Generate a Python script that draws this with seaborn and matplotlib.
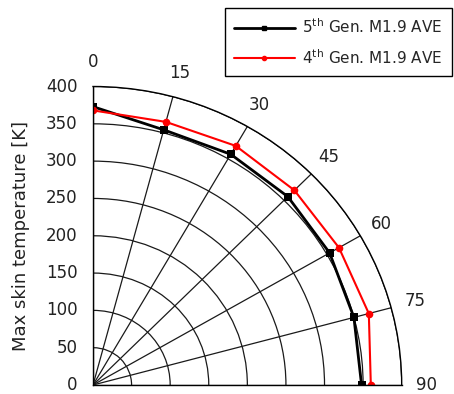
import numpy as np
import pandas as pd
import matplotlib
matplotlib.use('Agg')
import matplotlib.pyplot as plt
from matplotlib.lines import Line2D
import seaborn as sns

# Data
angles = [0, 15, 30, 45, 60, 75, 90]
gen5_temp = [373, 354, 357, 357, 354, 350, 348]
gen4_temp = [368, 365, 370, 369, 368, 370, 360]
series_names = ['5$^{\\mathrm{th}}$ Gen. M1.9 AVE', '4$^{\\mathrm{th}}$ Gen. M1.9 AVE']
r_ticks = [0, 50, 100, 150, 200, 250, 300, 350, 400]
theta_ticks = [0, 15, 30, 45, 60, 75, 90]

sns.set_theme(style='white')
plt.rcParams['font.family'] = ['DejaVu Sans']

df = pd.DataFrame({
    'theta': np.deg2rad(angles + angles),
    'temp': gen5_temp + gen4_temp,
    'series': [series_names[0]] * len(angles) + [series_names[1]] * len(angles),
})

fig = plt.figure(figsize=(4.54, 3.94), dpi=100)
ax = fig.add_axes([93 / 454, 9 / 394, 308.7 / 454, 298.5 / 394], projection='polar')
ax.set_theta_zero_location('N')
ax.set_theta_direction(-1)
ax.set_thetamin(0)
ax.set_thetamax(90)
ax.set_aspect('auto')

sns.lineplot(data=df, x='theta', y='temp', hue='series', style='series',
             palette=['black', 'red'], markers=['s', 'o'], dashes=False,
             markersize=5.5, markeredgewidth=0, sort=False, legend=False, ax=ax)
ax.lines[0].set_linewidth(2)
ax.lines[1].set_linewidth(1.5)

ax.set_rlim(0, 400)
ax.set_xlabel('')
ax.set_ylabel('')

# angular ticks
ax.set_xticks(np.deg2rad(theta_ticks))
ax.set_xticklabels([str(a) for a in theta_ticks])
ax.set_xticks(np.deg2rad(np.arange(7.5, 90, 15)), minor=True)
ax.tick_params(axis='x', which='major', labelsize=12, pad=4.5, labelcolor='#222')
ax.tick_params(axis='x', which='minor', direction='in', length=4, width=0.8, color='black')

# radial ticks
ax.set_yticks(r_ticks)
ax.set_yticks(np.arange(25, 400, 50), minor=True)
ax.tick_params(axis='y', which='both', labelsize=12, labelcolor='#222', pad=8,
               direction='out', length=3, width=0.8, color='black')

ax.grid(True, color='#1a1a1a', lw=0.9)
for sp in ax.spines.values():
    sp.set_color('black')
    sp.set_linewidth(1)

fig.text(21 / 454, 1 - 236 / 394, 'Max skin temperature [K]', rotation=90,
         ha='center', va='center', fontsize=13, color='#222')

handles = [Line2D([], [], color='black', lw=2, marker='s', ms=3),
           Line2D([], [], color='red', lw=1.5, marker='o', ms=3)]
leg = fig.legend(handles, series_names, loc='upper right',
                 bbox_to_anchor=(452 / 454, 1 - 8 / 394), frameon=True,
                 fancybox=False, edgecolor='black', framealpha=1, fontsize=11,
                 handlelength=4.0, borderaxespad=0, borderpad=0.6,
                 labelspacing=0.8, handletextpad=0.5)
leg.get_frame().set_linewidth(1)

fig.savefig('out.png', dpi=100)
